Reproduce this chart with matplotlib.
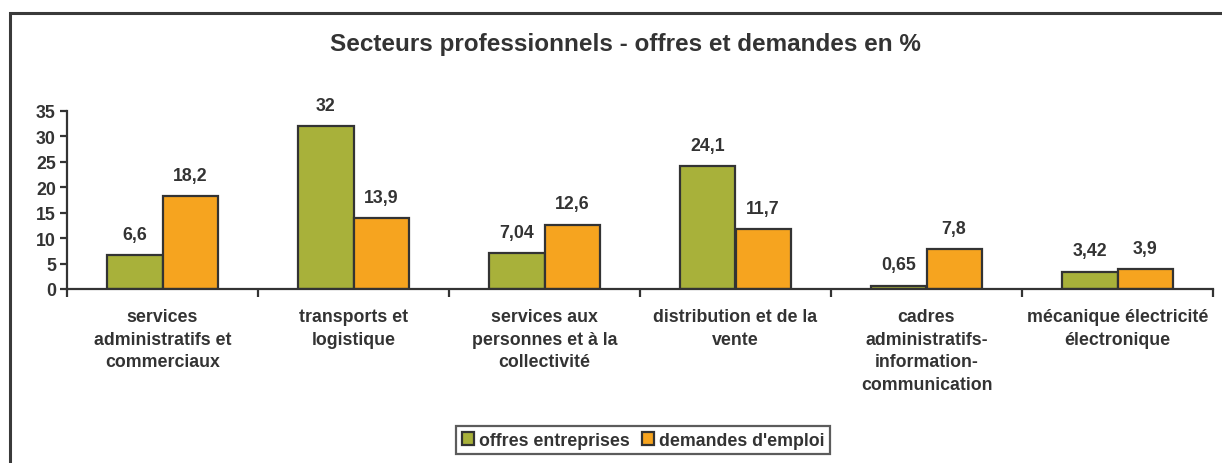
import matplotlib
matplotlib.use("Agg")
import matplotlib.pyplot as plt
from matplotlib.patches import Rectangle
import numpy as np

plt.rcParams['font.family'] = ['Liberation Sans', 'DejaVu Sans']

categories = ["services\nadministratifs et\ncommerciaux",
              "transports et\nlogistique",
              "services aux\npersonnes et à la\ncollectivité",
              "distribution et de la\nvente",
              "cadres\nadministratifs-\ninformation-\ncommunication",
              "mécanique électricité\nélectronique"]
offres = [6.6, 32, 7.04, 24.1, 0.65, 3.42]
demandes = [18.2, 13.9, 12.6, 11.7, 7.8, 3.9]
series_names = ["offres entreprises", "demandes d'emploi"]
yticks = [0, 5, 10, 15, 20, 25, 30, 35]

green = "#A8B13A"
orange = "#F6A41F"
edge = "#333333"
txt = "#333333"
fs = 12.8

fig = plt.figure(figsize=(12.22, 4.64), dpi=100)
ax = fig.add_axes([67/1222, 1-290/464, (1213-67)/1222, (290-112)/464])

x = np.arange(len(categories))
w = 0.288
b1 = ax.bar(x - w/2, offres, w, color=green, edgecolor=edge, linewidth=1.6, label=series_names[0])
b2 = ax.bar(x + w/2, demandes, w, color=orange, edgecolor=edge, linewidth=1.6, label=series_names[1])

def fmt(v):
    return f"{v:g}".replace('.', ',')

for bars, vals in ((b1, offres), (b2, demandes)):
    for r, v in zip(bars, vals):
        ax.annotate(fmt(v), (r.get_x() + r.get_width()/2, v), xytext=(0, 9),
                    textcoords="offset points", ha="center", va="bottom",
                    fontsize=fs, fontweight="bold", color=txt)

ax.set_xlim(-0.5, len(categories) - 0.5)
ax.set_ylim(0, 35)
ax.set_yticks(yticks)
ax.set_yticklabels([str(t) for t in yticks], fontsize=fs, fontweight="bold", color=txt)
ax.set_xticks(np.arange(len(categories) + 1) - 0.5)
ax.set_xticklabels([])
ax.set_xticks(x, minor=True)
ax.set_xticklabels(categories, minor=True, fontsize=fs, fontweight="bold", color=txt,
                   linespacing=1.42, va="top")
ax.tick_params(axis="x", which="minor", length=0, pad=14)
ax.tick_params(axis="x", which="major", length=6, width=1.6, color=edge, direction="out")
ax.tick_params(axis="y", length=5, width=1.6, color=edge, direction="out", pad=3)

for s in ("top", "right"):
    ax.spines[s].set_visible(False)
for s in ("left", "bottom"):
    ax.spines[s].set_linewidth(1.6)
    ax.spines[s].set_color(edge)

fig.text(625/1222, 1-45/464, "Secteurs professionnels - offres et demandes en %",
         ha="center", va="center", fontsize=17.5, fontweight="bold", color=txt)

leg = fig.legend(handles=[b1, b2], labels=series_names, loc="center",
                 bbox_to_anchor=(643/1222, 1-441/464), ncol=2, frameon=True,
                 fancybox=False, handlelength=0.7, handleheight=0.7, handletextpad=0.25,
                 columnspacing=0.7, borderpad=0.3, borderaxespad=0,
                 prop={"size": fs, "weight": "bold"})
leg.get_frame().set_edgecolor(edge)
leg.get_frame().set_linewidth(1.6)
for t in leg.get_texts():
    t.set_color(txt)

border = Rectangle((10/1222, -0.1), 1.2, 1 - 14/464 + 0.1, transform=fig.transFigure,
                   fill=False, edgecolor="#3a3a3a", linewidth=2.2, clip_on=False)
fig.patches.append(border)

fig.savefig("out.png", dpi=100)
